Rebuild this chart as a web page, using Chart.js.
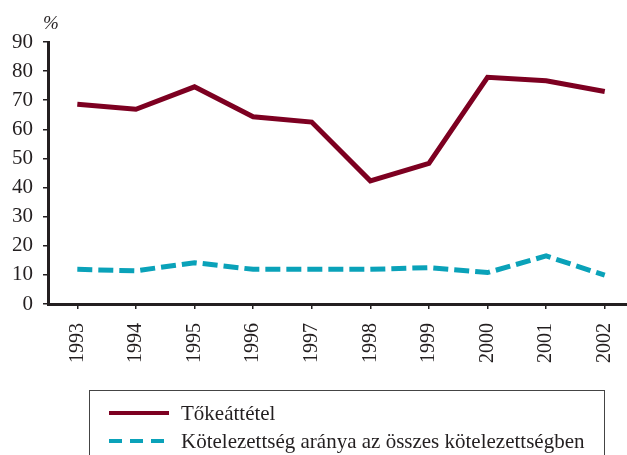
<!DOCTYPE html>
<html>
<head>
<meta charset="utf-8">
<script src="https://cdn.jsdelivr.net/npm/chart.js@4/dist/chart.umd.min.js"></script>
<style>
  html, body { margin: 0; padding: 0; background: #fff; }
  #wrap { width: 627px; height: 455px; position: relative; }
</style>
</head>
<body>
<div id="wrap"><canvas id="chart"></canvas></div>
<script>
const years      = [1993, 1994, 1995, 1996, 1997, 1998, 1999, 2000, 2001, 2002]
const tokeattetel = [68.6, 66.9, 74.6, 64.3, 62.5, 42.3, 48.3, 77.9, 76.7, 73.0]
const kotelezettseg = [11.9, 11.4, 14.2, 11.9, 11.9, 11.9, 12.5, 10.8, 16.5, 9.9]
const yTicks     = [0, 10, 20, 30, 40, 50, 60, 70, 80, 90]
const seriesNames = ['Tőkeáttétel', 'Kötelezettség aránya az összes kötelezettségben']

const MAROON = '#7d0021'
const TEAL   = '#0aa2b9'
const INK    = '#231f20'
const FONT   = '"Liberation Serif", "Times New Roman", serif'

const pts = vals => vals.map((v, i) => ({ x: years[i], y: v }))

// "%" unit over the y axis plus the boxed legend under the year labels
const extras = {
  id: 'extras',
  afterDraw(chart) {
    const { ctx, chartArea } = chart
    ctx.save()
    ctx.fillStyle = INK
    ctx.font = 'italic 19px ' + FONT
    ctx.textAlign = 'center'
    ctx.textBaseline = 'alphabetic'
    ctx.fillText('%', chartArea.left + 3, 29)

    // legend frame runs off the bottom edge
    ctx.strokeStyle = '#444'
    ctx.lineWidth = 1
    ctx.strokeRect(89.5, 390.5, 515, 80)

    const rows = [
      { y: 413, color: MAROON, dash: [] },
      { y: 441, color: TEAL, dash: [13, 8] },
    ]
    ctx.font = '21px ' + FONT
    ctx.textAlign = 'left'
    ctx.textBaseline = 'middle'
    rows.forEach((r, i) => {
      ctx.beginPath()
      ctx.setLineDash(r.dash)
      ctx.strokeStyle = r.color
      ctx.lineWidth = 4
      ctx.moveTo(109, r.y)
      ctx.lineTo(169, r.y)
      ctx.stroke()
      ctx.setLineDash([])
      ctx.fillStyle = INK
      ctx.fillText(chart.data.datasets[i].label, 181, r.y + 1)
    })
    ctx.restore()
  }
}

new Chart(document.getElementById('chart'), {
  type: 'line',
  data: {
    datasets: [
      {
        label: seriesNames[0],
        data: pts(tokeattetel),
        borderColor: MAROON,
        borderWidth: 5,
        pointRadius: 0,
        tension: 0,
      },
      {
        label: seriesNames[1],
        data: pts(kotelezettseg),
        borderColor: TEAL,
        borderWidth: 5,
        borderDash: [15, 6],
        pointRadius: 0,
        tension: 0,
      },
    ],
  },
  options: {
    responsive: true,
    maintainAspectRatio: false,
    animation: false,
    layout: { padding: { top: 42, right: 0, left: 0, bottom: 0 } },
    plugins: {
      legend: { display: false },
      tooltip: { enabled: false },
    },
    scales: {
      x: {
        type: 'linear',
        min: 1992.5,
        max: 2002.38,
        afterBuildTicks: s => { s.ticks = years.map(v => ({ value: v })) },
        afterFit: s => {
          s.height = 455 - 304
          s.paddingLeft = 0
          s.paddingRight = 0
        },
        grid: { drawOnChartArea: false, drawTicks: true, tickLength: 5, color: INK, lineWidth: 1.5 },
        border: { display: true, color: INK, width: 3 },
        ticks: {
          minRotation: 90,
          maxRotation: 90,
          padding: 14,
          color: INK,
          font: { family: FONT, size: 20 },
          callback: v => String(v),
        },
      },
      y: {
        min: 0,
        max: 90,
        afterBuildTicks: s => { s.ticks = yTicks.map(v => ({ value: v })) },
        afterFit: s => {
          s.width = 48
          s.paddingTop = 0
          s.paddingBottom = 0
        },
        grid: { drawOnChartArea: false, drawTicks: true, tickLength: 5, color: INK, lineWidth: 1.5 },
        border: { display: true, color: INK, width: 3 },
        ticks: {
          padding: 10,
          color: INK,
          font: { family: FONT, size: 21 },
        },
      },
    },
  },
  plugins: [extras],
})
</script>
</body>
</html>
